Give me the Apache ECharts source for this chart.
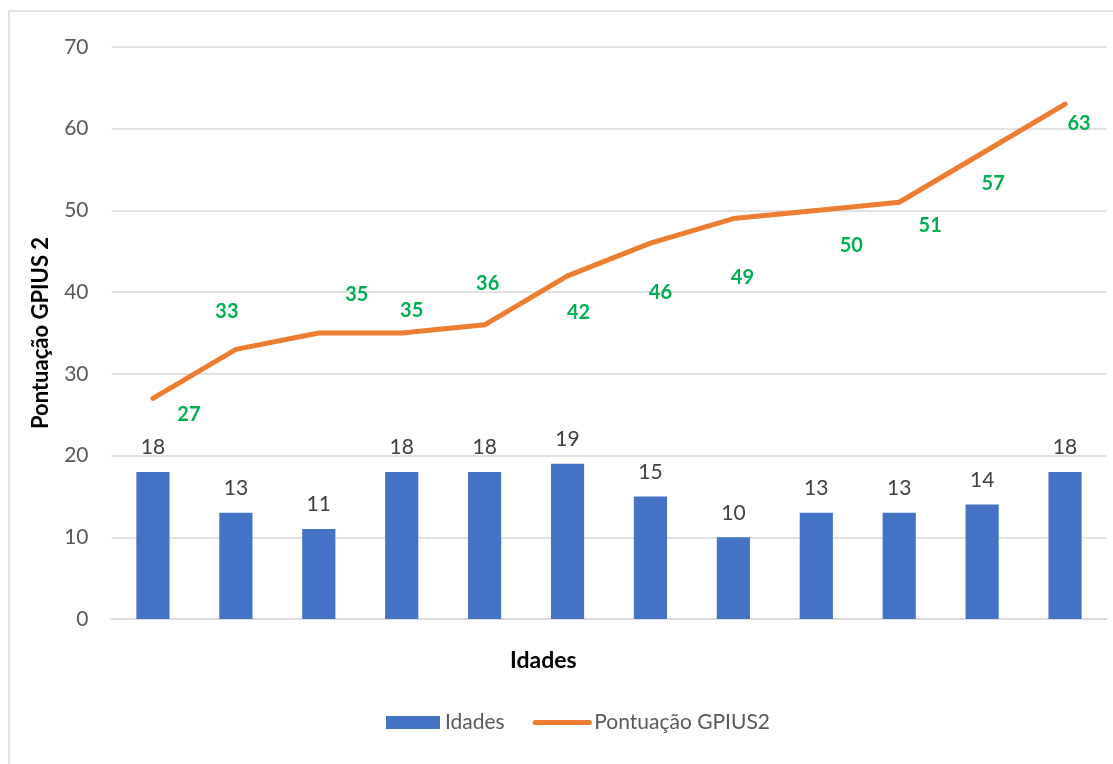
<!DOCTYPE html>
<html>
<head>
<meta charset="utf-8">
<script src="https://cdn.jsdelivr.net/npm/echarts@6/dist/echarts.min.js"></script>
<style>
  html, body { margin: 0; padding: 0; background: #fff; }
  #chart { width: 1113px; height: 764px; }
</style>
</head>
<body>
<div id="chart"></div>
<script>
// dados
const participantes = ['1', '2', '3', '4', '5', '6', '7', '8', '9', '10', '11', '12']
const idades = [18, 13, 11, 18, 18, 19, 15, 10, 13, 13, 14, 18]
const pontuacao = [27, 33, 35, 35, 36, 42, 46, 49, 50, 51, 57, 63]
const yTicks = [0, 10, 20, 30, 40, 50, 60, 70]

// deslocamento dos rótulos verdes (posicionados à mão no original)
const labelOffsets = [
  [36, 16], [-9, -38], [38, -38], [10, -22], [3, -41], [11, 37],
  [10, 49], [9, 59], [35, 35], [31, 23], [11, 30], [14, 19]
]

const fontFamily = 'Lato, "Noto Sans", sans-serif'
const chart = echarts.init(document.getElementById('chart'))

const option = {
  animation: false,
  textStyle: { fontFamily: fontFamily },
  grid: {
    left: 111.5,
    right: 6.5,
    top: 47,
    bottom: 145,
    containLabel: false
  },
  legend: {
    left: 381,
    top: 707,
    itemWidth: 54,
    itemHeight: 13,
    itemGap: 28,
    textStyle: { color: '#595959', fontSize: 21, fontFamily: fontFamily },
    data: [
      { name: 'Idades', icon: 'rect' },
      {
        name: 'Pontuação GPIUS2',
        itemStyle: { opacity: 0 },
        lineStyle: { width: 5, cap: 'round' }
      }
    ]
  },
  xAxis: {
    type: 'category',
    data: participantes,
    axisTick: { show: false },
    axisLabel: { show: false },
    axisLine: { lineStyle: { color: '#d9d9d9', width: 1.5 } }
  },
  yAxis: {
    type: 'value',
    min: yTicks[0],
    max: yTicks[yTicks.length - 1],
    interval: 10,
    name: 'Pontuação GPIUS 2',
    nameLocation: 'middle',
    nameGap: 60,
    nameTextStyle: { color: '#000', fontSize: 22, fontWeight: 'bold', fontFamily: fontFamily },
    axisLine: { show: false },
    axisTick: { show: false },
    axisLabel: { color: '#595959', fontSize: 21, margin: 23 },
    splitLine: { lineStyle: { color: '#d9d9d9', width: 1.5 } }
  },
  graphic: [
    {
      type: 'rect',
      shape: { x: 9, y: 11, width: 1300, height: 900 },
      style: { fill: 'none', stroke: '#d9d9d9', lineWidth: 1.5 },
      silent: true
    },
    {
      type: 'text',
      left: 510,
      top: 649,
      style: { text: 'Idades', fill: '#000', font: 'bold 23px ' + fontFamily }
    }
  ],
  series: [
    {
      name: 'Idades',
      type: 'bar',
      data: idades,
      barWidth: '40%',
      itemStyle: { color: '#4472c4' },
      label: {
        show: true,
        position: 'top',
        distance: 14,
        color: '#404040',
        fontSize: 21
      }
    },
    {
      name: 'Pontuação GPIUS2',
      type: 'line',
      data: pontuacao.map((v, i) => ({
        value: v,
        label: { offset: labelOffsets[i] }
      })),
      symbol: 'circle',
      symbolSize: 4,
      showSymbol: true,
      lineStyle: { color: '#ed7d31', width: 5, cap: 'round', join: 'round' },
      itemStyle: { color: '#ed7d31' },
      label: {
        show: true,
        position: 'inside',
        color: '#00b050',
        fontWeight: 'bold',
        fontSize: 20
      }
    }
  ]
}

chart.setOption(option)
</script>
</body>
</html>
